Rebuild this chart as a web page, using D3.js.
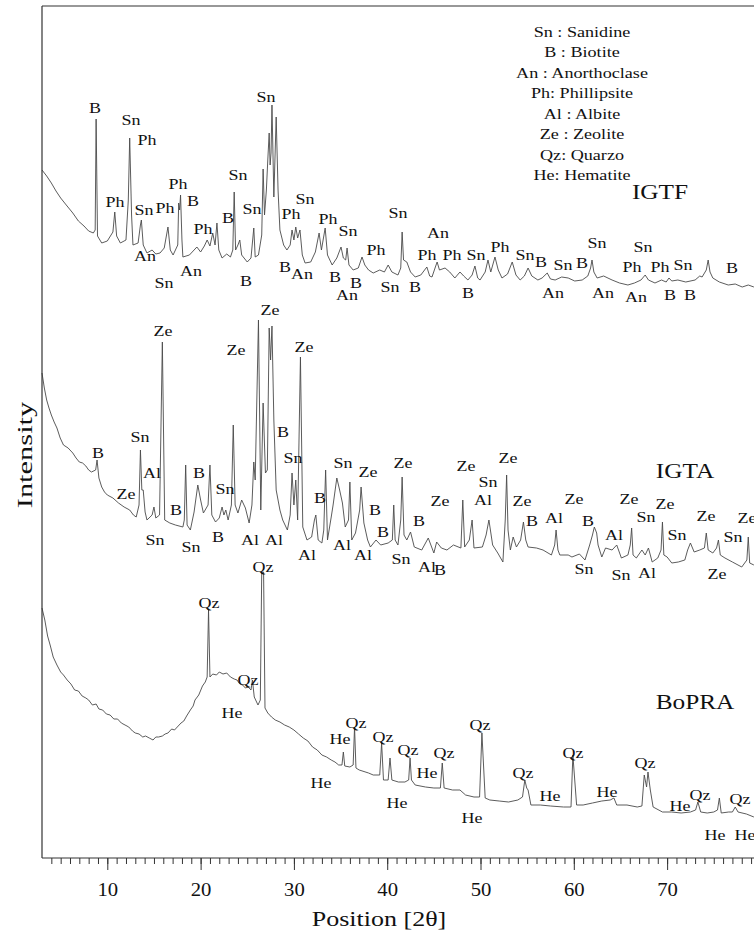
<!DOCTYPE html>
<html>
<head>
<meta charset="utf-8">
<script src="https://cdn.jsdelivr.net/npm/d3@7/dist/d3.min.js"></script>
<style>
  body { margin: 0; background: #fff; }
  svg { display: block; font-family: "Liberation Serif", "Times New Roman", serif; }
  .trace { fill: none; stroke: #4a4a4a; stroke-width: 0.9; stroke-linejoin: round; }
  .frame { stroke: #333; stroke-width: 1.2; }
  .axis path, .axis line { stroke: #333; }
  .axis text { font-family: "Liberation Serif", serif; fill: #111; }
</style>
</head>
<body>
<svg id="chart" width="754" height="933"></svg>
<script>
// diffraction patterns, [2theta, intensity] (arbitrary units, offsets included)
var igtf = [
  [3.0,688],[3.5,682],[4.0,675],[4.5,667],[5.0,660],[5.6,653],[6.3,645],[6.9,637],[7.5,632],[8.0,627],
  [8.5,625],[8.7,628],[8.8,739],[8.95,622],[9.4,615],
  [10.0,617],[10.6,626],[10.8,646],[11.0,622],[11.4,615],[12.0,618],[12.25,658],[12.4,720],[12.6,643],[12.75,613],
  [13.3,615],[13.55,633],[13.65,638],[13.85,613],[14.25,605],[14.8,608],[15.2,604],[15.65,605],[16.1,610],[16.5,631],
  [16.75,608],[17.05,603],[17.55,613],[17.65,655],[17.75,648],[17.85,663],[18.0,618],[18.1,601],[18.8,603],[19.3,608],
  [19.6,611],[20.0,606],[20.4,612],[20.7,618],[21.0,612],[21.3,625],[21.55,613],[21.75,635],[21.95,608],[22.3,600],
  [22.8,604],[23.2,601],[23.45,608],[23.6,666],[23.75,608],[24.0,613],[24.2,618],[24.4,603],[25.0,596],[25.4,600],
  [25.7,630],[25.85,601],[26.2,603],[26.55,623],[26.7,689],[26.85,643],[27.05,668],[27.2,698],[27.35,725],[27.45,693],
  [27.55,705],[27.65,753],[27.85,661],[28.1,741],[28.3,668],[28.5,628],[28.9,613],[29.25,608],[29.6,613],[29.8,628],
  [30.0,618],[30.2,631],[30.4,620],[30.65,628],[30.9,603],[31.2,595],[31.8,596],[32.3,606],[32.7,625],[32.95,608],
  [33.35,630],[33.6,603],[34.1,593],[34.6,600],[35.05,611],[35.3,600],[35.55,598],[35.7,610],[35.9,593],[36.35,588],
  [36.9,590],[37.3,601],[37.6,593],[38.0,588],[38.5,585],[39.2,588],[39.7,586],[40.1,593],[40.5,586],[41.15,583],
  [41.45,590],[41.6,626],[41.75,598],[42.1,596],[42.5,586],[43.0,581],[43.6,583],[44.25,591],[44.55,582],[44.8,581],
  [45.2,592],[45.35,596],[45.6,588],[46.2,590],[46.7,586],[47.25,580],[47.8,586],[48.2,582],[48.65,578],[49.1,583],
  [49.4,592],[49.7,580],[49.95,578],[50.5,586],[50.8,598],[51.1,586],[51.55,601],[51.9,588],[52.3,580],[52.9,584],
  [53.4,596],[53.8,583],[54.25,578],[54.7,582],[55.1,590],[55.5,582],[56.15,578],[56.6,580],[57.15,585],[57.5,579],
  [58.0,578],[58.7,581],[59.4,580],[60.1,577],[60.9,578],[61.5,582],[61.8,590],[61.95,598],[62.15,586],[62.5,580],
  [63.2,582],[64.1,578],[64.9,575],[65.8,573],[66.5,575],[67.2,578],[67.65,583],[68.0,578],[68.7,575],[69.4,578],
  [69.9,576],[70.2,580],[70.5,577],[71.15,578],[72.0,576],[73.0,578],[73.5,582],[73.75,581],[74.2,588],[74.4,598],
  [74.6,586],[74.9,580],[75.6,576],[76.55,573],[77.3,574],[78.05,571],[78.7,573],[79.3,571]
];
var igta = [
  [3.0,485],[3.25,470],[3.5,458],[3.75,450],[4.0,443],[4.3,436],[4.6,430],[4.95,420],[5.3,413],[5.8,410],
  [6.3,405],[6.65,400],[7.0,396],[7.35,395],[7.7,392],[8.0,388],[8.3,386],[8.75,388],
  [8.9,398],[9.1,380],[9.4,371],[9.7,366],[10.0,363],[10.6,360],[11.2,355],[11.8,351],[12.4,348],[12.8,343],
  [13.1,341],[13.4,353],[13.55,408],[13.7,368],
  [13.85,368],[14.05,346],[14.25,338],[14.8,343],[15.0,351],[15.2,340],[15.6,343],[15.9,516],[16.15,338],[16.7,335],
  [17.3,333],[18.1,331],[18.25,338],[18.4,393],[18.55,333],[18.9,328],[19.3,346],[19.7,373],[20.0,358],[20.3,345],
  [20.8,353],[21.0,393],[21.2,343],[21.6,336],[22.0,340],[22.3,351],[22.5,343],[22.7,348],[22.95,338],[23.3,353],
  [23.5,433],[23.7,353],[24.0,345],[24.4,358],[24.8,350],[25.2,335],[25.5,353],[25.7,396],[25.85,378],[26.2,538],
  [26.45,348],[26.7,455],[26.95,385],[27.15,388],[27.35,530],[27.5,498],[27.65,532],[27.85,438],[28.1,368],[28.5,348],
  [28.8,338],[29.3,328],[29.6,343],[29.8,385],[30.0,353],[30.2,378],[30.4,338],[30.7,501],[30.95,331],[31.4,318],
  [31.9,321],[32.2,338],[32.35,343],[32.6,318],[33.0,315],[33.2,328],[33.4,388],[33.6,318],[34.0,341],[34.2,353],
  [34.6,380],[34.9,368],[35.2,355],[35.5,331],[35.85,338],[36.0,376],[36.2,318],[36.6,325],[37.05,348],[37.2,371],
  [37.5,335],[37.9,318],[38.2,311],[38.8,318],[39.3,313],[40.1,315],[40.55,318],[40.7,353],[40.85,318],[41.15,313],
  [41.45,338],[41.6,381],[41.8,323],[42.1,318],[42.5,326],[42.9,311],[43.7,308],[44.4,320],[45.0,305],[45.3,316],
  [45.8,310],[46.4,308],[47.1,313],[47.9,310],[48.1,358],[48.3,311],[48.8,318],[49.1,338],[49.3,310],[50.2,311],
  [50.6,323],[50.9,338],[51.3,313],[51.85,305],[52.4,296],[52.65,338],[52.8,383],[52.95,328],[53.2,308],[53.5,321],
  [53.85,311],[54.3,318],[54.6,336],[54.85,318],[55.1,311],[56.0,310],[56.7,308],[57.6,303],[57.95,313],[58.1,328],
  [58.3,308],[58.5,303],[59.4,303],[59.8,301],[60.6,304],[61.2,298],[61.7,313],[62.0,323],[62.2,331],[62.45,325],
  [62.6,313],[63.0,301],[63.4,310],[64.1,308],[64.6,313],[65.1,300],[65.8,303],[66.05,313],[66.2,330],[66.35,303],
  [66.7,300],[67.3,308],[67.65,303],[68.0,310],[68.4,296],[69.0,300],[69.35,308],[69.5,336],[69.65,303],[70.0,301],
  [70.5,295],[71.2,296],[71.9,298],[72.2,308],[72.5,315],[72.9,306],[73.5,308],[74.0,310],[74.2,325],[74.4,308],
  [74.9,305],[75.3,310],[75.5,318],[75.7,303],[76.2,300],[77.0,296],[78.0,291],[78.55,298],[78.7,321],[78.85,295],
  [79.3,293]
];
var bopra = [
  [3.0,250],[3.3,238],[3.6,222],[3.9,212],[4.2,201],[4.6,193],[5.0,186],[5.3,183],[5.7,178],[6.1,174],
  [6.5,168],[6.9,167],[7.3,162],[7.7,160],[8.0,158],[8.4,153],[8.8,154],[9.1,149],[9.5,148],[9.9,144],
  [10.3,143],[10.7,139],[11.1,139],[11.5,135],[11.9,133],[12.3,131],[12.7,127],[13.0,125],[13.4,124],[13.8,121],
  [14.1,122],[14.5,120],[14.9,118],[15.2,121],[15.5,121],[15.9,122],[16.2,124],[16.5,125],[16.9,129],[17.2,128],
  [17.5,131],[17.9,135],[18.2,137],[18.5,142],[18.9,148],[19.2,152],[19.4,158],[19.8,163],[20.2,172],[20.5,176],
  [20.7,181],[20.85,248],[21.0,181],[21.3,184],[21.7,183],[22.0,186],[22.4,184],[22.8,185],[23.2,181],[23.6,179],
  [23.9,178],[24.2,174],[24.5,173],[24.8,170],[25.1,171],[25.4,168],[25.55,178],[25.75,161],[26.15,153],
  [26.4,158],[26.55,286],[26.75,286],[26.9,150],[27.2,145],[27.6,141],[28.0,138],[28.5,136],[29.0,133],[29.5,131],
  [30.0,128],[30.5,124],[31.0,120],[31.5,117],[32.0,111],[32.5,108],[33.0,103],[33.5,101],[34.0,98],[34.4,96],
  [34.8,93],[35.15,93],[35.3,106],[35.45,92],[36.0,91],[36.35,93],[36.5,131],[36.65,90],
  [37.0,88],[38.0,85],[38.5,83],[39.2,83],[39.4,115],[39.6,78],[40.1,78],[40.3,100],[40.5,78],[41.2,76],
  [41.9,76],[42.3,78],[42.45,100],[42.6,78],[43.0,73],[44.1,71],[45.0,70],[45.7,70],[45.9,95],[46.1,70],
  [47.0,68],[47.8,68],[48.4,63],[49.3,61],[49.9,61],[50.15,125],[50.35,88],[50.5,60],[51.0,58],[52.0,57],
  [53.0,56],[54.0,58],[54.5,61],[54.75,78],[54.95,70],[55.1,68],[55.4,53],[56.4,53],[57.5,52],[58.9,51],
  [59.7,51],[59.9,103],[60.1,78],[60.3,53],[61.0,53],[62.0,55],[63.0,57],[63.9,58],[64.3,60],[64.6,53],
  [65.7,53],[66.8,51],[67.3,52],[67.55,83],[67.8,71],[67.95,86],[68.2,68],[68.5,51],[69.5,46],[70.5,46],
  [71.5,45],[72.5,46],[73.05,48],[73.3,56],[73.6,46],[74.3,45],[75.0,46],[75.4,48],[75.6,60],[75.8,45],
  [76.6,46],[77.0,46],[77.3,51],[77.6,46],[78.5,44],[79.3,41]
];

// phase labels, [2theta, intensity, text]
var igtfLabels = [
  [8.68,750,"B"],[12.54,738,"Sn"],[14.25,718,"Ph"],[10.82,656,"Ph"],[13.93,648,"Sn"],[16.18,650,"Ph"],
  [17.58,674,"Ph"],[19.18,657,"B"],[20.26,629,"Ph"],[22.94,640,"B"],[24.0,683,"Sn"],[25.51,649,"Sn"],
  [27.01,761,"Sn"],[14.04,602,"An"],[16.08,575,"Sn"],[18.97,587,"An"],[24.86,577,"B"],[29.69,644,"Ph"],
  [31.19,659,"Sn"],[33.65,639,"Ph"],[35.8,627,"Sn"],[38.8,608,"Ph"],[29.04,591,"B"],[30.87,584,"An"],
  [34.4,581,"B"],[36.65,575,"B"],[35.69,563,"An"],[41.16,645,"Sn"],[45.44,625,"An"],[44.26,603,"Ph"],
  [46.94,603,"Ph"],[49.52,603,"Sn"],[52.09,611,"Ph"],[54.77,603,"Sn"],[56.48,596,"B"],[58.84,593,"Sn"],
  [60.88,595,"B"],[62.49,615,"Sn"],[67.42,611,"Sn"],[66.24,591,"Ph"],[69.24,591,"Ph"],[71.7,593,"Sn"],
  [76.95,590,"B"],[40.3,571,"Sn"],[42.98,571,"B"],[48.66,565,"B"],[57.77,565,"An"],[63.13,565,"An"],
  [66.66,561,"An"],[70.31,563,"B"],[72.45,563,"B"]
];
var igtaLabels = [
  [15.97,527,"Ze"],[23.79,508,"Ze"],[27.44,548,"Ze"],[31.08,511,"Ze"],[28.83,426,"B"],[13.5,421,"Sn"],
  [9.0,405,"B"],[14.79,385,"Al"],[12.0,364,"Ze"],[19.83,385,"B"],[22.61,369,"Sn"],[17.36,348,"B"],
  [29.9,400,"Sn"],[35.26,395,"Sn"],[37.94,386,"Ze"],[32.8,360,"B"],[15.11,318,"Sn"],[18.97,311,"Sn"],
  [21.86,321,"B"],[25.29,318,"Al"],[27.87,318,"Al"],[31.4,303,"Al"],[35.15,313,"Al"],[37.41,303,"Al"],
  [41.69,395,"Ze"],[38.69,348,"B"],[39.55,326,"B"],[45.66,357,"Ze"],[43.41,337,"B"],[48.44,392,"Ze"],
  [50.8,376,"Sn"],[50.27,358,"Al"],[52.95,400,"Ze"],[54.45,357,"Ze"],[55.52,337,"B"],[57.88,340,"Al"],
  [60.02,359,"Ze"],[61.52,337,"B"],[64.31,323,"Al"],[65.92,359,"Ze"],[69.77,354,"Ze"],[67.74,341,"Sn"],
  [71.06,323,"Sn"],[74.17,342,"Ze"],[78.56,340,"Ze"],[77.06,321,"Sn"],[41.48,299,"Sn"],[44.26,291,"Al"],
  [45.66,288,"B"],[61.09,289,"Sn"],[65.06,283,"Sn"],[67.84,285,"Al"],[75.35,284,"Ze"]
];
var bopraLabels = [
  [20.9,255,"Qz"],[26.69,291,"Qz"],[25.08,178,"Qz"],[23.36,145,"He"],[34.94,119,"He"],[36.65,135,"Qz"],
  [32.9,75,"He"],[39.55,121,"Qz"],[42.23,108,"Qz"],[44.26,85,"He"],[46.09,105,"Qz"],[41.05,55,"He"],
  [49.95,133,"Qz"],[49.09,40,"He"],[54.55,85,"Qz"],[57.45,62,"He"],[59.91,105,"Qz"],[63.56,66,"He"],
  [67.63,95,"Qz"],[71.38,52,"He"],[73.53,63,"Qz"],[77.81,59,"Qz"],[75.13,23,"He"],[78.35,23,"He"]
];

var sampleNames = [[69.24,666,"IGTF"],[71.92,387,"IGTA"],[72.99,156,"BoPRA"]];
var legendItems = ["Sn : Sanidine","B : Biotite","An : Anorthoclase","Ph: Phillipsite",
  "Al : Albite","Ze : Zeolite","Qz: Quarzo","He: Hematite"];
var majorTicks = [10,20,30,40,50,60,70];
var minorTicks = d3.range(4, 81);

var svg = d3.select("#chart");
var plotLeft = 42, plotTop = 6, plotBottom = 858;

var x = d3.scaleLinear().domain([3, 80]).range([plotLeft, plotLeft + 77 * 9.33]);
var y = d3.scaleLinear().domain([0, plotBottom - plotTop]).range([plotBottom, plotTop]);

var line = d3.line()
  .x(function(d) { return x(d[0]); })
  .y(function(d) { return y(d[1]); });

// traces
[igtf, igta, bopra].forEach(function(s) {
  svg.append("path").attr("class", "trace").attr("d", line(s));
});

// frame: left side and top
svg.append("line").attr("class", "frame")
  .attr("x1", plotLeft).attr("x2", plotLeft).attr("y1", plotTop).attr("y2", plotBottom);
svg.append("line").attr("class", "frame")
  .attr("x1", plotLeft).attr("x2", 754).attr("y1", plotTop).attr("y2", plotTop);

// bottom axis, minor then major ticks
svg.append("g").attr("class", "axis")
  .attr("transform", "translate(0," + plotBottom + ")")
  .call(d3.axisBottom(x).tickValues(minorTicks).tickSize(6).tickFormat(""))
  .call(function(g) { g.select(".domain").attr("d", "M" + plotLeft + ",0H754"); });
var major = svg.append("g").attr("class", "axis")
  .attr("transform", "translate(0," + plotBottom + ")")
  .call(d3.axisBottom(x).tickValues(majorTicks).tickSize(12).tickPadding(13).tickFormat(d3.format("d")));
major.select(".domain").remove();
major.selectAll("text")
  .attr("font-size", 18)
  .each(function() {
    var t = d3.select(this);
    t.attr("transform", "translate(0," + t.attr("y") + ") scale(1.15,1)").attr("y", 0);
  });

// text helper, the figure's lettering is slightly wide
function stretchText(g, px, py, txt, size, sx) {
  return g.append("text")
    .attr("transform", "translate(" + px + "," + py + ") scale(" + sx + ",1)")
    .attr("text-anchor", "middle")
    .attr("dominant-baseline", "central")
    .attr("font-size", size)
    .attr("fill", "#111")
    .text(txt);
}

var labelLayer = svg.append("g");
[igtfLabels, igtaLabels, bopraLabels].forEach(function(set) {
  set.forEach(function(d) {
    stretchText(labelLayer, x(d[0]), y(d[1]), d[2], 15, 1.2);
  });
});

sampleNames.forEach(function(d) {
  stretchText(svg, x(d[0]), y(d[1]), d[2], 22, 1.15);
});

// legend block
legendItems.forEach(function(d, i) {
  stretchText(svg, 582, 32 + i * 20.5, d, 14.5, 1.25);
});

// axis titles
stretchText(svg, 379, 919, "Position [2\u03b8]", 20, 1.3);
svg.append("text")
  .attr("transform", "translate(25,455) rotate(-90) scale(1.45,1)")
  .attr("text-anchor", "middle")
  .attr("dominant-baseline", "central")
  .attr("font-size", 21)
  .attr("fill", "#111")
  .text("Intensity");
</script>
</body>
</html>
